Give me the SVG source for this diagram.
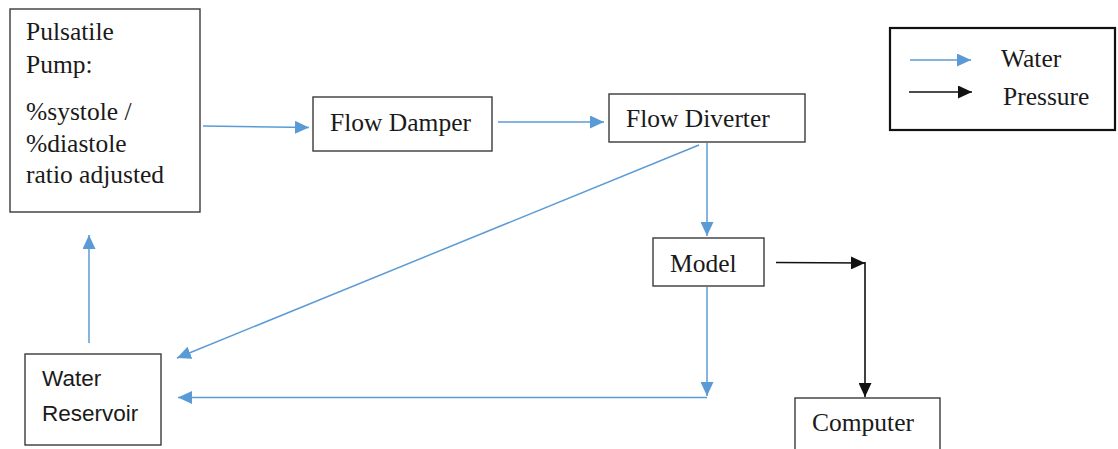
<svg xmlns="http://www.w3.org/2000/svg" width="1118" height="449" viewBox="0 0 1118 449">
<style>
.box{fill:#fff;stroke:#3a3a3a;stroke-width:1.4}
.lg{fill:#fff;stroke:#111;stroke-width:2.2}
.t{font-family:"Liberation Serif","Times New Roman",serif;font-size:25.5px;fill:#1a1a1a}
.s{font-family:"Liberation Sans",Arial,sans-serif;font-size:22.5px;fill:#1a1a1a}
.w{fill:none;stroke:#5b9bd5;stroke-width:1.5}
.p{fill:none;stroke:#111;stroke-width:1.6}
</style>
<defs>
<marker id="ab" markerUnits="userSpaceOnUse" markerWidth="15" markerHeight="13" refX="14" refY="6.5" orient="auto"><path d="M0,0 L14,6.5 L0,13 Z" fill="#5b9bd5"/></marker>
<marker id="ak" markerUnits="userSpaceOnUse" markerWidth="15" markerHeight="13" refX="14" refY="6.5" orient="auto"><path d="M0,0 L14,6.5 L0,13 Z" fill="#111"/></marker>
</defs>
<rect width="1118" height="449" fill="#fff"/>
<g id="connectors">
<line class="w" x1="203" y1="126" x2="309" y2="127.5" marker-end="url(#ab)"/>
<line class="w" x1="498" y1="122" x2="604" y2="122" marker-end="url(#ab)"/>
<line class="w" x1="707" y1="143" x2="707" y2="236" marker-end="url(#ab)"/>
<line class="w" x1="699" y1="145" x2="177" y2="358" marker-end="url(#ab)"/>
<line class="w" x1="707" y1="287" x2="707" y2="396" marker-end="url(#ab)"/>
<line class="w" x1="707" y1="397.5" x2="178" y2="397.5" marker-end="url(#ab)"/>
<line class="w" x1="89" y1="343" x2="89" y2="235" marker-end="url(#ab)"/>
<line class="p" x1="776" y1="262.5" x2="865" y2="263" marker-end="url(#ak)"/>
<line class="p" x1="865" y1="262" x2="865" y2="397" marker-end="url(#ak)"/>
</g>
<g id="pump">
<rect class="box" x="10" y="9" width="190" height="203"/>
<text class="t" x="26" y="40">Pulsatile</text>
<text class="t" x="26" y="73">Pump:</text>
<text class="t" x="26" y="120">%systole /</text>
<text class="t" x="26" y="152">%diastole</text>
<text class="t" x="26" y="183">ratio adjusted</text>
</g>
<g id="damper">
<rect class="box" x="313" y="97" width="179" height="54"/>
<text class="t" x="330" y="131">Flow Damper</text>
</g>
<g id="diverter">
<rect class="box" x="609" y="94" width="196" height="48"/>
<text class="t" x="626" y="127">Flow Diverter</text>
</g>
<g id="model">
<rect class="box" x="653" y="238" width="111" height="48"/>
<text class="t" x="670" y="272">Model</text>
</g>
<g id="reservoir">
<rect class="box" x="25" y="354" width="136" height="91"/>
<text class="s" x="42" y="386">Water</text>
<text class="s" x="42" y="421">Reservoir</text>
</g>
<g id="computer">
<rect class="box" x="795" y="398" width="145" height="60"/>
<text class="t" x="812" y="431">Computer</text>
</g>
<g id="legend">
<rect class="lg" x="890" y="28" width="225" height="102"/>
<line class="w" x1="910" y1="60" x2="971" y2="60" marker-end="url(#ab)"/>
<line class="p" x1="909" y1="92" x2="972" y2="92" marker-end="url(#ak)"/>
<text class="t" x="1001" y="67">Water</text>
<text class="t" x="1003" y="105">Pressure</text>
</g>
</svg>
